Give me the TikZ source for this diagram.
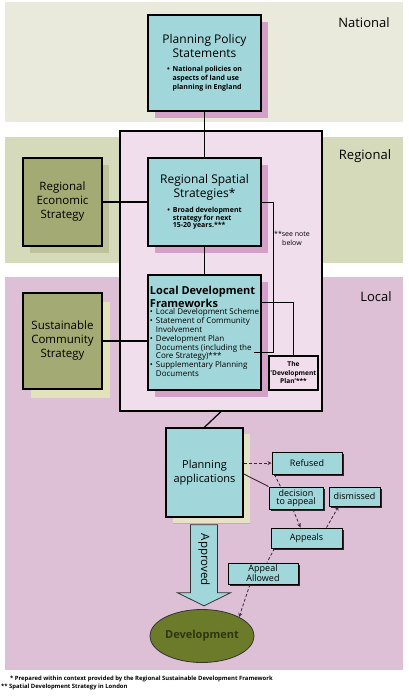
\documentclass[tikz,border=0pt]{standalone}
\usepackage{fontspec}
\setmainfont{Open Sans}
\usetikzlibrary{calc, shadows, shapes.geometric}

\definecolor{natband}{HTML}{E9EADC}
\definecolor{regband}{HTML}{D5DABB}
\definecolor{locband}{HTML}{DDBFD6}
\definecolor{framefill}{HTML}{F1DEED}
\definecolor{tealfill}{HTML}{A1D7DA}
\definecolor{pinkshadow}{HTML}{D3A0C8}
\definecolor{olivefill}{HTML}{A4AA73}
\definecolor{oliveshadow}{HTML}{BEC29A}
\definecolor{paleshadow}{HTML}{E2E3BB}
\definecolor{beigeshadow}{HTML}{E6E2C6}
\definecolor{devfill}{HTML}{6C7B2A}
\definecolor{devtext}{HTML}{2F3510}
\definecolor{flowline}{HTML}{3D2438}

\newcommand{\itemlist}[1]{\begin{tabular}{@{}l@{\hspace{3pt}}l@{}}#1\end{tabular}}

\tikzset{
  level/.style={font=\fontsize{13}{15}\selectfont},
  tealbox/.style={draw=black, line width=1.6pt, fill=tealfill, inner sep=0pt,
    drop shadow={shadow xshift=7pt, shadow yshift=-7pt, fill=pinkshadow, opacity=1}},
  olivebox/.style={draw=black, line width=1.8pt, fill=olivefill, inner sep=0pt, align=center,
    font=\fontsize{11.5}{14}\selectfont},
  smallbox/.style={draw=black, line width=1pt, fill=tealfill, inner sep=0pt, align=center,
    font=\fontsize{9}{8.5}\selectfont,
    drop shadow={shadow xshift=1.5pt, shadow yshift=-1.5pt, fill=black!85, opacity=1}},
  flow/.style={flowline, line width=0.8pt, dash pattern=on 3pt off 2pt},
  link/.style={black, line width=1.2pt},
  bigarrow/.style={draw=black!80, line width=0.8pt, fill=tealfill},
  footnote/.style={anchor=base west, inner sep=0pt, font=\fontsize{5.9}{6}\selectfont\bfseries}
}

\begin{document}
\begin{tikzpicture}[x=1pt, y=-1pt]
\useasboundingbox (0,0) rectangle (409,697);

\begin{scope}
  \fill[natband] (5,2) rectangle (403,122);
  \fill[regband] (5,137) rectangle (403,263);
  \fill[locband] (5,277) rectangle (403,670);
\end{scope}

\node[level] (national) at (364,23) {National};
\node[level] (regional) at (365,156) {Regional};
\node[level] (local) at (376,297) {Local};

\node[draw=black, line width=1.2pt, fill=framefill, minimum width=202, minimum height=280] (devframe) at (221,271) {};

\begin{scope}
  \node[tealbox, minimum width=113, minimum height=96, align=center, font=\fontsize{12}{14}\selectfont] (pps) at (204.5,63)
    {Planning Policy\\Statements\\[7pt]
     {\fontsize{7}{9}\selectfont\bfseries\itemlist{\textbullet & National policies on\\ & aspects of land use\\ & planning in England}}};
  \node[tealbox, minimum width=113, minimum height=88, align=center, font=\fontsize{12}{14}\selectfont] (rss) at (204.5,202)
    {Regional Spatial\\Strategies*\\[6pt]
     {\fontsize{7}{7.2}\selectfont\bfseries\itemlist{\textbullet & Broad development\\ & strategy for next\\ & 15-20 years.***}}};
  \node[tealbox, minimum width=113, minimum height=115, align=left, font=\fontsize{11}{13.5}\selectfont\bfseries] (ldf) at (204.5,332.5)
    {Local Development\\Frameworks\\[0pt]
     {\fontsize{8}{8.8}\selectfont\mdseries\itemlist{\textbullet & Local Development Scheme\\
       \textbullet & Statement of Community\\ & Involvement\\
       \textbullet & Development Plan\\ & Documents (including the\\ & Core Strategy)***\\
       \textbullet & Supplementary Planning\\ & Documents}}};
\end{scope}

\begin{scope}
  \node[olivebox, minimum width=79, minimum height=88,
    drop shadow={shadow xshift=7pt, shadow yshift=-7pt, fill=oliveshadow, opacity=1}] (res) at (62.5,202)
    {Regional\\Economic\\Strategy};
  \node[olivebox, minimum width=79, minimum height=96,
    drop shadow={shadow xshift=8pt, shadow yshift=-9pt, fill=paleshadow, opacity=1}] (scs) at (62.5,341)
    {Sustainable\\Community\\Strategy};
\end{scope}

\node[draw=black, line width=1.2pt, fill=framefill, minimum width=49, minimum height=34, inner sep=0pt,
  align=center, font=\fontsize{6.6}{8.5}\selectfont\bfseries] (devplan) at (293.5,373)
  {The\\'Development\\Plan'***};
\node[align=center, inner sep=0pt, font=\fontsize{7}{8.5}\selectfont] (seenote) at (292,238.5) {**see note\\below};

\node[tealbox, minimum width=77, minimum height=89, align=center, font=\fontsize{11}{14}\selectfont,
  drop shadow={shadow xshift=7pt, shadow yshift=-6pt, fill=beigeshadow, opacity=1}] (pa) at (204.5,472.5)
  {Planning\\applications};

\node[smallbox, minimum width=70, minimum height=22] (refused) at (307,463) {Refused};
\node[smallbox, minimum width=54, minimum height=22] (decision) at (296,498) {decision\\to appeal};
\node[smallbox, minimum width=51, minimum height=19] (dismissed) at (354.5,496.5) {dismissed};
\node[smallbox, minimum width=71, minimum height=20] (appeals) at (306.5,538) {Appeals};
\node[smallbox, minimum width=70, minimum height=21] (allowed) at (263,573.5) {Appeal\\Allowed};

\draw[bigarrow] ($(pa.south)+(-14,7)$) -- ++(27,0) -- ++(0,68) -- ++(13,0) -- ++(-26.5,13) -- ++(-26.5,-13) -- ++(13,0) -- cycle;
\node[rotate=-90, font=\fontsize{11.5}{13}\selectfont] (approved) at ($(pa.south)+(-0.5,42)$) {Approved};

\node[ellipse, draw=black!80, line width=0.8pt, fill=devfill, minimum width=82, minimum height=53, inner sep=0pt,
  text=devtext, font=\fontsize{11}{13}\selectfont\bfseries] (development) at (202,636) {Development};

\coordinate (ldf tick) at (254,352);

\begin{scope}[link]
  \draw (pps.south) -- (rss.north);
  \draw (rss.south) -- (ldf.north);
  \draw (res.east) -- (rss.west);
  \draw (scs.east) -- (scs.east -| ldf.west);
  \draw (devframe.south) -- (pa.north);
  \draw[line width=0.9pt] (rss.east) -- ++(12,0) |- (ldf tick);
  \draw[line width=0.9pt] ($(ldf.north east)+(0,28)$) -| (devplan.north);
\end{scope}

\begin{scope}[flow]
  \draw[-stealth] (pa.east |- refused.west) -- (refused.west);
  \draw[solid, line width=0.9pt] ($(pa.east)+(0,1.5)$) -- (decision.north west);
  \draw ($(refused.south west)+(3,0)$) -- ($(decision.north west)+(12,0)$);
  \draw[-stealth] ($(decision.south)+(-3,0)$) -- ($(appeals.north)+(-6,0)$);
  \draw[-stealth] ($(appeals.north)+(20,0)$) -- ($(dismissed.south)+(-16,0)$);
  \draw ($(appeals.south west)+(4,0)$) -- ($(allowed.north)+(4,0)$);
  \draw[-stealth] ($(allowed.south)+(-13,0)$) -- (development.north east);
\end{scope}

\node[footnote] (note one) at (10,680) {* Prepared within context provided by the Regional Sustainable Development Framework};
\node[footnote] (note two) at (1,688) {** Spatial Development Strategy in London};
\end{tikzpicture}
\end{document}
